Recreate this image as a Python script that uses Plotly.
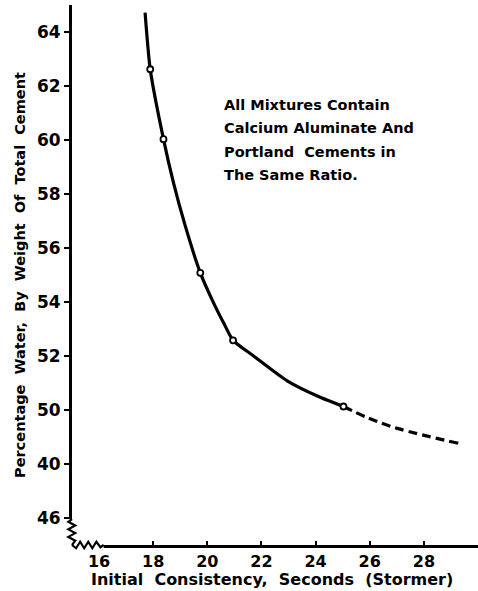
import plotly.graph_objects as go

# Data
curve_x = [17.70, 17.89, 18.38, 18.75, 19.19, 19.74, 20.23, 20.60, 20.95, 21.71, 22.95, 24.19, 25.03]
curve_y = [64.72, 62.62, 60.03, 58.41, 56.80, 55.08, 53.97, 53.23, 52.58, 52.00, 51.08, 50.46, 50.13]
dash_x = [25.03, 25.91, 27.02, 29.31]
dash_y = [50.13, 49.72, 49.32, 48.76]
point_x = [17.89, 18.38, 19.74, 20.95, 25.03]
point_y = [62.62, 60.03, 55.08, 52.58, 50.13]

x_ticks = [16, 18, 20, 22, 24, 26, 28]
y_ticks = [46, 48, 50, 52, 54, 56, 58, 60, 62, 64]
y_ticktext = ["46", "40", "50", "52", "54", "56", "58", "60", "62", "64"]

note_lines = ["All Mixtures Contain", "Calcium Aluminate And",
              "Portland  Cements in", "The Same Ratio."]
x_title = "Initial  Consistency,  Seconds  (Stormer)"
y_title = "Percentage  Water,  By  Weight  Of  Total  Cement"

FONT = "DejaVu Sans"

fig = go.Figure()
fig.add_trace(go.Scatter(x=curve_x, y=curve_y, mode="lines",
                         line=dict(color="black", width=3.2, shape="spline", smoothing=0.6),
                         hoverinfo="skip", showlegend=False))
fig.add_trace(go.Scatter(x=dash_x, y=dash_y, mode="lines",
                         line=dict(color="black", width=3.2, shape="spline", dash="9px,5px"),
                         hoverinfo="skip", showlegend=False))
fig.add_trace(go.Scatter(x=point_x, y=point_y, mode="markers",
                         marker=dict(symbol="circle", size=6, color="white",
                                     line=dict(color="black", width=1.8)),
                         showlegend=False))

# axis break marks (paper coordinates)
zig_v = "M 0,0.048 L -0.009,0.043 L 0.008,0.036 L -0.009,0.029 L 0.008,0.022 L -0.009,0.015 L 0.008,0.008 L 0,0"
zig_h = "M 0,0 L 0.01,-0.006 L 0.02,0.006 L 0.03,-0.006 L 0.04,0.006 L 0.05,-0.006 L 0.06,0.006 L 0.07,-0.004 L 0.078,0"
shapes = [
    dict(type="rect", xref="paper", yref="paper", x0=-0.03, x1=0.078, y0=-0.012, y1=0.012,
         fillcolor="white", line=dict(width=0), layer="above"),
    dict(type="rect", xref="paper", yref="paper", x0=-0.012, x1=0.012, y0=-0.012, y1=0.048,
         fillcolor="white", line=dict(width=0), layer="above"),
    dict(type="path", xref="paper", yref="paper", path=zig_v,
         line=dict(color="black", width=2.2), layer="above"),
    dict(type="path", xref="paper", yref="paper", path=zig_h,
         line=dict(color="black", width=2.2), layer="above"),
]

for i, line in enumerate(note_lines):
    fig.add_annotation(x=0.369, y=0.815 - i * 0.0433, xref="paper", yref="paper", text=line,
                       showarrow=False, align="left", xanchor="left", yanchor="middle",
                       font=dict(family=FONT, size=14.5, color="black", weight="bold"))

fig.add_annotation(x=0.4926, y=-0.0648, xref="paper", yref="paper", text=x_title,
                   showarrow=False, xanchor="center", yanchor="middle",
                   font=dict(family=FONT, size=16, color="black", weight="bold"))

fig.update_layout(
    width=478, height=591,
    margin=dict(l=72, r=0, t=5, b=46),
    plot_bgcolor="white", paper_bgcolor="white",
    shapes=shapes,
    xaxis=dict(range=[15, 30], tickvals=x_ticks, ticks="inside", ticklen=4, tickwidth=2,
               tickcolor="black", showgrid=False, zeroline=False,
               showline=True, linecolor="black", linewidth=3,
               tickfont=dict(family=FONT, size=16, color="black", weight="bold")),
    yaxis=dict(range=[45, 65], tickvals=y_ticks, ticktext=y_ticktext, ticks="outside",
               ticklen=5, tickwidth=2, tickcolor="black", showgrid=False, zeroline=False,
               showline=True, linecolor="black", linewidth=3,
               tickfont=dict(family=FONT, size=17, color="black", weight="bold"),
               title=dict(text=y_title, standoff=8,
                          font=dict(family=FONT, size=14.5, color="black", weight="bold"))),
)

fig.write_html("out.html", config={"displayModeBar": False},
               post_script="document.body.style.margin='0px';")
